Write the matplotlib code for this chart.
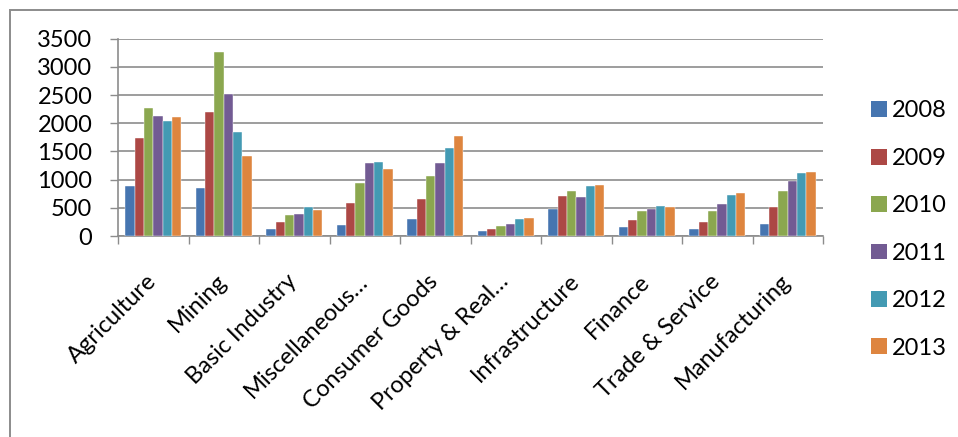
import matplotlib
matplotlib.use("Agg")
import matplotlib.pyplot as plt
import matplotlib.transforms as mtransforms
import numpy as np
from matplotlib.patches import Rectangle, Patch

categories = ["Agriculture", "Mining", "Basic Industry", "Miscellaneous\u2026",
              "Consumer Goods", "Property & Real\u2026", "Infrastructure",
              "Finance", "Trade & Service", "Manufacturing"]
years = ["2008", "2009", "2010", "2011", "2012", "2013"]

v2008 = [893, 857, 119, 196, 304, 83, 476, 155, 125, 214]
v2009 = [1738, 2196, 250, 583, 655, 125, 714, 286, 256, 512]
v2010 = [2268, 3256, 375, 946, 1071, 185, 798, 446, 452, 798]
v2011 = [2125, 2518, 393, 1292, 1298, 214, 685, 482, 560, 976]
v2012 = [2048, 1851, 506, 1321, 1554, 304, 887, 536, 720, 1125]
v2013 = [2119, 1411, 458, 1185, 1768, 321, 911, 518, 756, 1131]
series = [v2008, v2009, v2010, v2011, v2012, v2013]

colors = ["#4675B0", "#AC4845", "#8BA74F", "#725B93", "#439AB3", "#DE853F"]
yticks = [0, 500, 1000, 1500, 2000, 2500, 3000, 3500]

plt.rcParams['font.family'] = ['Lato', 'DejaVu Sans']
FS = 17
W, H = 958, 437
fig = plt.figure(figsize=(W / 100, H / 100), dpi=100)
ax = fig.add_axes([118 / W, 1 - 236 / H, (823 - 118) / W, (236 - 38.7) / H])

grid_c = "#8C8C8C"
x = np.arange(len(categories))
bw = 0.1325
for i, (vals, c, yr) in enumerate(zip(series, colors, years)):
    ax.bar(x - 2.5 * bw + i * bw, vals, width=bw, color=c, edgecolor="white",
           linewidth=0.3, label=yr, zorder=3)

ax.set_xlim(-0.5, len(categories) - 0.5)
ax.set_ylim(0, 3500)
ax.set_yticks(yticks)
ax.set_yticklabels([str(t) for t in yticks], fontsize=FS)
ax.yaxis.grid(True, color=grid_c, linewidth=1.2, zorder=0)
ax.set_axisbelow(True)
ax.tick_params(axis='y', length=6, width=1.0, color=grid_c, pad=12.5)

ax.set_xticks(x)
ax.set_xticklabels(categories, rotation=45, ha='right', rotation_mode='anchor',
                   fontsize=FS)
ax.set_xticks(np.arange(-0.5, len(categories)), minor=True)
ax.tick_params(axis='x', which='major', length=0, pad=19)
ax.tick_params(axis='x', which='minor', length=6, width=1.0, color=grid_c)
shift = mtransforms.ScaledTranslation(-8 / 100, -8 / 100, fig.dpi_scale_trans)
for lbl in ax.get_xticklabels():
    lbl.set_transform(lbl.get_transform() + shift)

for s in ['top', 'right']:
    ax.spines[s].set_visible(False)
for s in ['left', 'bottom']:
    ax.spines[s].set_color(grid_c)
    ax.spines[s].set_linewidth(1.2)

handles = [Patch(facecolor=c, edgecolor='none') for c in colors]
fig.legend(handles, years, loc='upper left', bbox_to_anchor=(862 / W, 1 - 91 / H),
           frameon=False, fontsize=FS, handlelength=0.66, handleheight=0.66,
           handletextpad=0.22, labelspacing=1.12, borderaxespad=0)

fig.add_artist(Rectangle((9.5 / W, -0.1), 1.2, 1 - 9.5 / H + 0.1,
                         transform=fig.transFigure, fill=False,
                         edgecolor=grid_c, linewidth=1.4))

fig.savefig("out.png", dpi=100)
